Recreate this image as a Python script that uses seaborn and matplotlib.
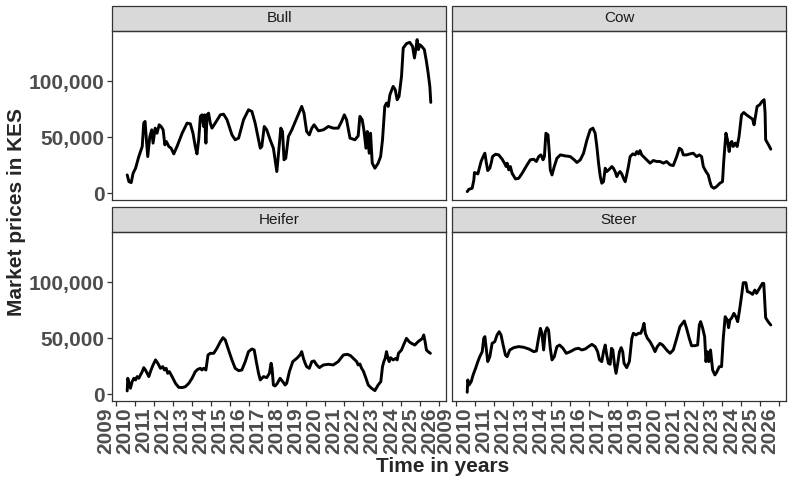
import numpy as np
import pandas as pd
import seaborn as sns
import matplotlib.pyplot as plt
from matplotlib.patches import Rectangle

# decimal years and market prices (KES)
bull_year = [2009.61, 2009.70, 2009.82, 2009.92, 2010.05, 2010.22, 2010.40, 2010.48, 2010.55, 2010.62,
             2010.69, 2010.80, 2010.90, 2010.97, 2011.08, 2011.18, 2011.29, 2011.39, 2011.50, 2011.59,
             2011.67, 2011.80, 2011.92, 2012.06, 2012.23, 2012.50, 2012.76, 2012.93, 2013.07, 2013.19,
             2013.28, 2013.37, 2013.46, 2013.54, 2013.63, 2013.68, 2013.75, 2013.81, 2013.89, 2013.98,
             2014.07, 2014.24, 2014.51, 2014.68, 2014.86, 2015.12, 2015.29, 2015.47, 2015.73, 2015.99,
             2016.17, 2016.34, 2016.61, 2016.69, 2016.82, 2016.95, 2017.13, 2017.30, 2017.48, 2017.57,
             2017.69, 2017.78, 2017.86, 2017.95, 2018.09, 2018.27, 2018.53, 2018.79, 2018.91, 2019.05,
             2019.19, 2019.32, 2019.44, 2019.67, 2019.93, 2020.19, 2020.45, 2020.71, 2020.89, 2021.03,
             2021.15, 2021.33, 2021.59, 2021.76, 2021.85, 2021.97, 2022.06, 2022.17, 2022.24, 2022.34,
             2022.41, 2022.50, 2022.64, 2022.81, 2022.94, 2023.04, 2023.16, 2023.25, 2023.34, 2023.43,
             2023.60, 2023.71, 2023.81, 2023.91, 2024.04, 2024.13, 2024.30, 2024.47, 2024.62, 2024.72,
             2024.79, 2024.86, 2024.93, 2025.00, 2025.10, 2025.24, 2025.35, 2025.44, 2025.53, 2025.58]
bull_price = [16400, 10400, 9550, 17900, 22400, 32800, 41800, 62700, 64200, 47800,
              32800, 50700, 56700, 44800, 58200, 53700, 61200, 59700, 56700, 43300,
              46300, 41800, 40300, 35200, 41800, 53700, 62700, 62100, 53700, 41800,
              35200, 47800, 68700, 70100, 59700, 70100, 44800, 70100, 71600, 62700,
              58200, 62700, 70100, 70700, 65700, 52200, 47800, 49300, 65700, 74600,
              73100, 62700, 40300, 41800, 59700, 56700, 47800, 40300, 19400, 35800,
              58200, 55200, 29900, 31300, 50700, 56700, 67200, 77600, 71600, 55200,
              52200, 58200, 61200, 55800, 56700, 59700, 58200, 58200, 64200, 70100,
              65700, 49300, 47800, 51300, 68700, 65700, 56700, 40300, 55200, 35800,
              53700, 26900, 22400, 26900, 32800, 47800, 77600, 80600, 77600, 88100,
              95500, 92500, 83600, 86600, 104500, 129800, 133700, 134900, 131300, 120900,
              128400, 137300, 128400, 132800, 131300, 128400, 117900, 107500, 95500, 81200]

cow_year = [2009.61, 2009.70, 2009.87, 2009.96, 2009.99, 2010.10, 2010.17, 2010.27, 2010.34, 2010.45,
            2010.54, 2010.62, 2010.69, 2010.80, 2010.89, 2010.94, 2011.10, 2011.27, 2011.45, 2011.57,
            2011.66, 2011.71, 2011.80, 2011.88, 2011.97, 2012.15, 2012.32, 2012.50, 2012.76, 2012.93,
            2013.11, 2013.25, 2013.37, 2013.49, 2013.60, 2013.67, 2013.75, 2013.86, 2013.93, 2013.98,
            2014.07, 2014.19, 2014.33, 2014.51, 2014.77, 2015.03, 2015.24, 2015.38, 2015.56, 2015.73,
            2015.91, 2016.08, 2016.22, 2016.34, 2016.43, 2016.52, 2016.61, 2016.69, 2016.78, 2016.87,
            2016.95, 2017.09, 2017.22, 2017.30, 2017.39, 2017.48, 2017.57, 2017.65, 2017.74, 2017.83,
            2017.92, 2018.00, 2018.09, 2018.18, 2018.32, 2018.44, 2018.53, 2018.62, 2018.70, 2018.79,
            2018.88, 2019.05, 2019.23, 2019.40, 2019.58, 2019.75, 2019.93, 2020.10, 2020.28, 2020.45,
            2020.63, 2020.77, 2020.89, 2020.98, 2021.15, 2021.33, 2021.50, 2021.68, 2021.82, 2021.94,
            2022.03, 2022.17, 2022.29, 2022.38, 2022.46, 2022.59, 2022.73, 2022.90, 2023.04, 2023.11,
            2023.22, 2023.30, 2023.39, 2023.46, 2023.53, 2023.60, 2023.71, 2023.81, 2023.91, 2024.04,
            2024.16, 2024.30, 2024.47, 2024.62, 2024.70, 2024.79, 2024.86, 2025.00, 2025.12, 2025.23,
            2025.28, 2025.31, 2025.39, 2025.49, 2025.58]
cow_price = [1500, 3600, 4500, 11900, 18500, 17900, 17300, 23900, 28400, 32800,
             35800, 26900, 20300, 22400, 28400, 32800, 34900, 34300, 30400, 26900,
             23900, 26900, 20900, 23900, 17900, 12800, 13400, 17900, 25400, 29900,
             30400, 28400, 32800, 34300, 29900, 32800, 53700, 52200, 35800, 20900,
             16400, 23900, 31300, 34300, 33400, 32800, 29900, 27500, 29900, 35800,
             47800, 56700, 58200, 53700, 41800, 26900, 14900, 9000, 10400, 22400,
             19400, 21500, 23900, 22400, 19400, 14900, 17900, 19400, 17300, 13400,
             10400, 16400, 23900, 32800, 35200, 34300, 37300, 35200, 38200, 34300,
             32800, 29900, 26900, 29300, 28400, 28400, 26900, 28400, 25400, 24800,
             32800, 40300, 38800, 34300, 34300, 35200, 35800, 32800, 34300, 32800,
             23900, 19400, 16400, 10400, 6000, 4500, 6000, 9000, 10400, 29900,
             53700, 47800, 37300, 44800, 46300, 41800, 44800, 41800, 50700, 70100,
             72200, 70100, 68100, 66300, 61200, 70100, 77600, 79100, 82100, 83600,
             71600, 47800, 45400, 42400, 39400]

heifer_year = [2009.61, 2009.64, 2009.71, 2009.78, 2009.87, 2009.96, 2010.05, 2010.13, 2010.22, 2010.31,
               2010.40, 2010.48, 2010.57, 2010.66, 2010.75, 2010.83, 2010.97, 2011.10, 2011.22, 2011.36,
               2011.48, 2011.57, 2011.66, 2011.74, 2011.83, 2011.97, 2012.15, 2012.32, 2012.50, 2012.67,
               2012.85, 2013.02, 2013.19, 2013.32, 2013.46, 2013.54, 2013.63, 2013.75, 2013.86, 2013.98,
               2014.16, 2014.33, 2014.51, 2014.65, 2014.77, 2014.94, 2015.12, 2015.29, 2015.47, 2015.64,
               2015.82, 2015.99, 2016.17, 2016.29, 2016.40, 2016.52, 2016.61, 2016.78, 2016.95, 2017.09,
               2017.18, 2017.23, 2017.30, 2017.39, 2017.51, 2017.65, 2017.79, 2017.92, 2018.00, 2018.14,
               2018.32, 2018.53, 2018.70, 2018.79, 2018.88, 2018.97, 2019.05, 2019.19, 2019.32, 2019.44,
               2019.58, 2019.72, 2019.93, 2020.19, 2020.45, 2020.71, 2020.98, 2021.19, 2021.36, 2021.54,
               2021.68, 2021.76, 2021.85, 2021.94, 2022.03, 2022.17, 2022.29, 2022.46, 2022.64, 2022.81,
               2022.95, 2023.04, 2023.11, 2023.18, 2023.25, 2023.32, 2023.39, 2023.46, 2023.60, 2023.74,
               2023.81, 2023.88, 2024.04, 2024.16, 2024.30, 2024.44, 2024.56, 2024.74, 2024.91, 2025.03,
               2025.14, 2025.21, 2025.28, 2025.35, 2025.44, 2025.56]
heifer_price = [3000, 14300, 9800, 5400, 11300, 14300, 12800, 15800, 14300, 17300,
                20200, 23800, 21700, 18700, 15800, 20200, 26200, 30700, 27700, 23200,
                24700, 21700, 23200, 18700, 20200, 15800, 9800, 6200, 6000, 6800,
                9800, 14300, 20200, 22300, 23200, 21700, 23200, 21700, 35100, 36600,
                36600, 41100, 47000, 50600, 48500, 39600, 30700, 23200, 21100, 21700,
                29200, 38100, 40500, 39600, 29200, 18700, 12800, 15800, 14900, 18700,
                27700, 23200, 8300, 7400, 9800, 14300, 11300, 8300, 9800, 20200,
                29200, 32100, 35100, 38100, 32100, 27700, 24700, 23200, 29200, 29800,
                26200, 23800, 26200, 26800, 26200, 29200, 35100, 35700, 34500, 31500,
                29200, 26200, 27100, 23200, 20800, 14300, 8300, 5400, 3300, 8300,
                11300, 24700, 29200, 32100, 38100, 32700, 29200, 32700, 30700, 32100,
                30700, 36600, 39600, 44600, 50000, 47000, 45500, 44000, 47000, 48500,
                50000, 53000, 47000, 39600, 38100, 36600]

steer_year = [2009.61, 2009.64, 2009.71, 2009.82, 2009.92, 2010.05, 2010.17, 2010.27, 2010.40, 2010.48,
              2010.54, 2010.61, 2010.69, 2010.80, 2010.92, 2011.06, 2011.18, 2011.29, 2011.39, 2011.50,
              2011.62, 2011.71, 2011.85, 2012.06, 2012.32, 2012.58, 2012.85, 2013.11, 2013.25, 2013.33,
              2013.46, 2013.54, 2013.63, 2013.72, 2013.81, 2013.89, 2013.98, 2014.07, 2014.19, 2014.33,
              2014.47, 2014.65, 2014.82, 2015.03, 2015.29, 2015.47, 2015.64, 2015.82, 2015.99, 2016.17,
              2016.34, 2016.47, 2016.57, 2016.69, 2016.78, 2016.87, 2016.95, 2017.04, 2017.13, 2017.20,
              2017.27, 2017.36, 2017.44, 2017.53, 2017.62, 2017.71, 2017.79, 2017.86, 2018.00, 2018.14,
              2018.27, 2018.35, 2018.49, 2018.62, 2018.74, 2018.84, 2018.91, 2018.98, 2019.09, 2019.23,
              2019.37, 2019.49, 2019.61, 2019.75, 2019.89, 2020.10, 2020.28, 2020.45, 2020.63, 2020.80,
              2021.03, 2021.15, 2021.29, 2021.41, 2021.59, 2021.73, 2021.82, 2021.89, 2021.99, 2022.10,
              2022.17, 2022.24, 2022.32, 2022.41, 2022.52, 2022.64, 2022.73, 2022.87, 2022.99, 2023.08,
              2023.18, 2023.29, 2023.36, 2023.43, 2023.51, 2023.64, 2023.74, 2023.84, 2023.95, 2024.06,
              2024.13, 2024.27, 2024.35, 2024.47, 2024.62, 2024.74, 2024.83, 2024.93, 2025.03, 2025.14,
              2025.21, 2025.26, 2025.31, 2025.44, 2025.58]
steer_price = [1800, 12800, 8300, 11300, 17300, 23200, 29200, 33600, 38100, 50000,
               51500, 41100, 29200, 33600, 45500, 47000, 53000, 55900, 53000, 44000,
               35100, 33600, 39600, 41700, 42600, 42000, 40500, 38100, 38700, 47000,
               58900, 54500, 39600, 55900, 59500, 57400, 41100, 30700, 33600, 42600,
               44000, 41100, 36600, 38100, 40500, 41100, 39600, 40500, 42600, 44600,
               42600, 38100, 30700, 29200, 38100, 44000, 35100, 27700, 26800, 41100,
               39600, 26200, 18700, 27700, 38100, 41700, 38100, 27700, 23800, 29200,
               50000, 54500, 53000, 54500, 54500, 58900, 63400, 54500, 50000, 47000,
               42600, 38100, 42600, 45500, 44000, 39600, 36600, 39600, 50000, 60400,
               65500, 58900, 50000, 43400, 43400, 44000, 61900, 64900, 59500, 51500,
               29200, 38100, 29200, 39600, 21700, 17300, 19600, 24700, 24700, 50000,
               69300, 66400, 59500, 66400, 67900, 72300, 69300, 64900, 76800, 90200,
               99700, 99700, 91700, 91100, 89300, 93100, 90200, 93100, 96100, 99100,
               99100, 84200, 68400, 64900, 61900]

panel_order = ["Bull", "Cow", "Heifer", "Steer"]
year_ticks = list(range(2009, 2027))
price_ticks = [0, 50000, 100000]

frames = []
for name, yrs, prices in [("Bull", bull_year, bull_price), ("Cow", cow_year, cow_price),
                          ("Heifer", heifer_year, heifer_price), ("Steer", steer_year, steer_price)]:
    frames.append(pd.DataFrame({"year": yrs, "price": prices, "animal": name}))
df = pd.concat(frames, ignore_index=True)

sns.set_style("white")
plt.rcParams["font.family"] = ["Liberation Sans", "DejaVu Sans"]

g = sns.relplot(data=df, x="year", y="price", col="animal", col_wrap=2, col_order=panel_order,
                kind="line", estimator=None, sort=False, color="black", linewidth=2.1,
                height=2.4, aspect=1.6,
                facet_kws={"sharex": True, "sharey": True, "despine": False})
fig = g.figure
fig.set_size_inches(7.92, 4.84)
fig.set_dpi(100)

# panel boxes in pixels (left, top) of a 792x484 canvas
corners = {"Bull": (112, 31), "Cow": (452, 31), "Heifer": (112, 232), "Steer": (452, 232)}
pw, ph, strip_h = 334, 169, 25

for name, ax in g.axes_dict.items():
    x0, y0 = corners[name]
    ax.set_position([x0 / 792, 1 - (y0 + ph) / 484, pw / 792, ph / 484])
    ax.set_title("")
    ax.set_xlabel("")
    ax.set_ylabel("")
    ax.set_xlim(2008.81, 2026.38)
    ax.set_ylim(-6000, 145000)
    for sp in ax.spines.values():
        sp.set_color("#333333")
        sp.set_linewidth(0.9)

    # ggplot-like strip on top
    ax.add_patch(Rectangle((0, 1), 1, strip_h / ph, transform=ax.transAxes, clip_on=False,
                           facecolor="#D9D9D9", edgecolor="#333333", linewidth=0.9))
    ax.text(0.5, 1 + strip_h / ph / 2, name, transform=ax.transAxes, ha="center", va="center",
            fontsize=11, color="#1A1A1A")

    ax.set_xticks(year_ticks)
    ax.set_yticks(price_ticks)
    ax.tick_params(length=3.5, width=0.9, color="#333333", direction="out")
    if name in ("Heifer", "Steer"):
        ax.set_xticklabels([str(y) for y in year_ticks], rotation=90, ha="right", va="top",
                           fontsize=15, fontweight="bold", color="#4D4D4D")
        ax.tick_params(axis="x", bottom=True, labelbottom=True, pad=1)
    else:
        ax.tick_params(axis="x", bottom=False, labelbottom=False)
    if name in ("Bull", "Heifer"):
        ax.set_yticklabels([f"{v:,}" for v in price_ticks], fontsize=15, fontweight="bold",
                           color="#4D4D4D")
        ax.tick_params(axis="y", left=True, labelleft=True, pad=2)
    else:
        ax.tick_params(axis="y", left=False, labelleft=False)

fig.text(17 / 792, 1 - 212 / 484, "Market prices in KES", rotation=90, ha="center", va="center",
         fontsize=15, fontweight="bold")
fig.text(443 / 792, 1 - 466 / 484, "Time in years", ha="center", va="center",
         fontsize=15, fontweight="bold")

fig.savefig("out.png", dpi=100)
